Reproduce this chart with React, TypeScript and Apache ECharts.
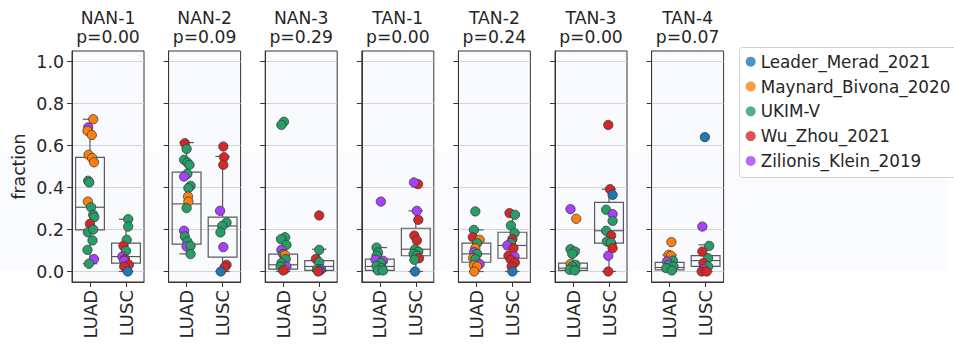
import React, { useEffect, useRef } from "react";
import * as echarts from "echarts";

const PANELS = ["NAN-1", "NAN-2", "NAN-3", "TAN-1", "TAN-2", "TAN-3", "TAN-4"];
const PVALUES = ["p=0.00", "p=0.09", "p=0.29", "p=0.00", "p=0.24", "p=0.00", "p=0.07"];
const GROUPS = ["LUAD", "LUSC"];
const DATASETS = ["Leader_Merad_2021", "Maynard_Bivona_2020", "UKIM-V", "Wu_Zhou_2021", "Zilionis_Klein_2019"];
const DATASET_COLORS = ["#1f77b4", "#ff7f0e", "#279e68", "#d62728", "#aa40fc"];
const Y_TICKS = [0, 0.2, 0.4, 0.6, 0.8, 1.0];

// box stats per group: [low whisker, q1, median, q3, high whisker]
const BOX_NAN1 = [[0.037, 0.198, 0.306, 0.543, 0.725], [0.0, 0.04, 0.071, 0.135, 0.249]];
const BOX_NAN2 = [[0.084, 0.13, 0.322, 0.473, 0.614], [0.0, 0.068, 0.217, 0.259, 0.548]];
const BOX_NAN3 = [[0.0, 0.011, 0.032, 0.083, 0.16], [0.0, 0.005, 0.024, 0.052, 0.106]];
const BOX_TAN1 = [[0.0, 0.005, 0.024, 0.059, 0.114], [0.0, 0.075, 0.106, 0.206, 0.289]];
const BOX_TAN2 = [[0.0, 0.044, 0.084, 0.135, 0.198], [0.0, 0.063, 0.124, 0.187, 0.278]];
const BOX_TAN3 = [[0.0, 0.005, 0.016, 0.04, 0.106], [0.0, 0.135, 0.194, 0.329, 0.392]];
const BOX_TAN4 = [[0.0, 0.008, 0.019, 0.043, 0.079], [0.0, 0.024, 0.052, 0.076, 0.127]];

// points: [fraction, dataset index, horizontal jitter (category units)]
const PTS_NAN1_LUAD = [[0.725, 1, 0.09], [0.686, 4, -0.05], [0.67, 1, -0.07], [0.65, 1, 0.05], [0.556, 1, -0.04], [0.54, 1, 0.06], [0.52, 1, 0.11], [0.432, 2, -0.05], [0.424, 2, -0.02], [0.333, 1, -0.06], [0.306, 2, 0.03], [0.27, 2, 0.09], [0.259, 2, 0.12], [0.227, 3, 0], [0.187, 2, -0.06], [0.2, 2, 0.09], [0.148, 2, 0.07], [0.103, 2, -0.07], [0.059, 4, 0.11], [0.037, 2, -0.03]];
const PTS_NAN1_LUSC = [[0.249, 2, 0.06], [0.214, 2, 0.06], [0.151, 2, 0.02], [0.122, 3, -0.07], [0.098, 2, 0], [0.071, 4, -0.1], [0.059, 3, -0.03], [0.051, 4, -0.05], [0.032, 3, 0.08], [0.024, 3, -0.05], [0, 0, 0.05]];
const PTS_NAN2_LUAD = [[0.611, 3, -0.05], [0.584, 2, 0], [0.532, 2, -0.07], [0.519, 2, 0.02], [0.508, 2, 0.08], [0.465, 2, 0.02], [0.452, 4, -0.07], [0.408, 2, 0.11], [0.397, 2, 0.05], [0.357, 1, 0.04], [0.333, 1, 0.05], [0.302, 2, 0], [0.194, 4, -0.07], [0.167, 2, -0.05], [0.143, 2, 0.02], [0.119, 4, 0], [0.122, 2, 0.11], [0.083, 2, 0.11]];
const PTS_NAN2_LUSC = [[0.595, 3, 0.02], [0.544, 3, 0.04], [0.508, 3, 0.02], [0.289, 4, -0.07], [0.233, 2, 0.11], [0.217, 2, -0.01], [0.186, 2, -0.06], [0.116, 4, 0.02], [0.032, 3, 0.11], [0.021, 3, 0.06], [0, 0, -0.05]];
const PTS_NAN3_LUAD = [[0.713, 2, 0.02], [0.698, 2, -0.05], [0.163, 2, 0.05], [0.154, 2, -0.06], [0.127, 2, 0.09], [0.103, 4, -0.05], [0.083, 2, 0], [0.079, 1, 0.05], [0.059, 2, 0.07], [0.04, 2, -0.05], [0.024, 4, 0.09], [0.024, 2, -0.07], [0.008, 1, 0.03], [0.005, 3, 0]];
const PTS_NAN3_LUSC = [[0.267, 3, 0], [0.103, 2, 0], [0.06, 3, -0.09], [0.044, 2, 0], [0.011, 2, -0.06], [0.011, 4, 0.05], [0.005, 0, 0.02], [0, 3, -0.03]];
const PTS_TAN1_LUAD = [[0.333, 4, 0.03], [0.114, 2, -0.09], [0.09, 2, -0.05], [0.075, 2, -0.09], [0.056, 4, -0.12], [0.051, 4, 0.09], [0.04, 2, 0.03], [0.027, 2, -0.09], [0.016, 2, 0.05], [0.005, 2, -0.05], [0.005, 2, 0.09]];
const PTS_TAN1_LUSC = [[0.416, 3, 0.06], [0.424, 4, -0.05], [0.289, 4, 0.03], [0.246, 3, 0.07], [0.171, 3, -0.04], [0.148, 3, 0.03], [0.106, 2, -0.02], [0.095, 2, 0.07], [0.084, 2, -0.06], [0.076, 2, 0.03], [0.063, 3, 0.09], [0.056, 2, -0.04], [0, 0, -0.02]];
const PTS_TAN2_LUAD = [[0.286, 2, -0.03], [0.198, 2, -0.07], [0.163, 3, -0.1], [0.151, 1, 0.09], [0.135, 2, 0.02], [0.111, 1, -0.03], [0.092, 4, -0.06], [0.084, 2, 0.02], [0.063, 1, -0.09], [0.059, 2, -0.03], [0.035, 4, 0.09], [0.029, 1, -0.07], [0.024, 1, 0.02], [0, 1, -0.06]];
const PTS_TAN2_LUSC = [[0.278, 3, -0.08], [0.27, 2, 0.07], [0.219, 2, -0.04], [0.183, 2, 0.06], [0.154, 3, 0], [0.135, 2, -0.04], [0.124, 4, -0.14], [0.111, 3, 0.03], [0.075, 3, -0.11], [0.071, 4, 0.06], [0.056, 3, -0.04], [0.043, 3, 0.07], [0.024, 3, -0.02], [0, 0, 0]];
const PTS_TAN3_LUAD = [[0.297, 4, -0.07], [0.251, 1, 0.09], [0.106, 2, -0.07], [0.095, 2, 0.05], [0.084, 2, -0.02], [0.035, 1, -0.07], [0.032, 2, 0.07], [0.024, 2, -0.02], [0.008, 2, -0.09], [0.005, 2, 0.05]];
const PTS_TAN3_LUSC = [[0.698, 3, -0.02], [0.392, 3, 0.03], [0.365, 0, 0.1], [0.294, 2, -0.08], [0.273, 4, 0.1], [0.241, 2, 0.1], [0.194, 2, -0.08], [0.171, 3, 0.06], [0.143, 2, -0.06], [0.132, 3, 0.07], [0.137, 2, 0.05], [0.111, 3, 0.1], [0.075, 4, -0.02], [0, 3, -0.02]];
const PTS_TAN4_LUAD = [[0.14, 1, 0.05], [0.079, 1, -0.03], [0.075, 1, 0.04], [0.052, 2, 0.09], [0.048, 4, -0.07], [0.032, 2, -0.03], [0.024, 2, 0.11], [0.016, 2, -0.09], [0.005, 2, 0.06]];
const PTS_TAN4_LUSC = [[0.64, 0, -0.02], [0.214, 4, -0.09], [0.122, 2, 0.1], [0.095, 3, -0.09], [0.063, 2, 0.07], [0.04, 3, -0.06], [0.024, 2, 0.07], [0.011, 4, -0.06], [0, 3, -0.11], [0, 3, 0.03]];

const BOXES = [BOX_NAN1, BOX_NAN2, BOX_NAN3, BOX_TAN1, BOX_TAN2, BOX_TAN3, BOX_TAN4];
const POINTS = [
  [PTS_NAN1_LUAD, PTS_NAN1_LUSC],
  [PTS_NAN2_LUAD, PTS_NAN2_LUSC],
  [PTS_NAN3_LUAD, PTS_NAN3_LUSC],
  [PTS_TAN1_LUAD, PTS_TAN1_LUSC],
  [PTS_TAN2_LUAD, PTS_TAN2_LUSC],
  [PTS_TAN3_LUAD, PTS_TAN3_LUSC],
  [PTS_TAN4_LUAD, PTS_TAN4_LUSC],
];

const FONT = "DejaVu Sans";
const TEXT = "#262626";
const SPINE = "#3a3533";
const GRIDLINE = "#d4d4d4";
const BOXLINE = "#5a5a5a";
const PLOT_BG = "#f8fafd";
const FS = 17.2;

const PANEL_LEFT0 = 72;
const PANEL_STEP = 96.6;
const PANEL_W = 72;
const PANEL_TOP = 51;
const PANEL_H = 231;

export default function App() {
  const ref = useRef<HTMLDivElement>(null);

  useEffect(() => {
    document.body.style.margin = "0";
    if (!ref.current) return;
    const chart = echarts.init(ref.current, null, { renderer: "svg" });

    const grids: any[] = [];
    const xAxes: any[] = [];
    const yAxes: any[] = [];
    const series: any[] = [];
    const titles: any[] = [];

    PANELS.forEach((name, i) => {
      const left = PANEL_LEFT0 + i * PANEL_STEP;
      grids.push({
        left, top: PANEL_TOP, width: PANEL_W, height: PANEL_H,
        show: true, backgroundColor: PLOT_BG, borderColor: SPINE, borderWidth: 1,
        outerBoundsMode: "none", containLabel: false,
      });
      titles.push({
        text: `${name}\n${PVALUES[i]}`,
        left: left + PANEL_W / 2,
        top: 8,
        padding: 0,
        textAlign: "center",
        textStyle: { fontFamily: FONT, fontSize: FS, fontWeight: "normal", color: TEXT, lineHeight: 19.5 },
      });
      xAxes.push({
        type: "category", gridIndex: i, data: GROUPS, position: "bottom",
        axisLine: { show: true, onZero: false, lineStyle: { color: SPINE, width: 1 } },
        axisTick: { show: true, alignWithLabel: true, length: 5, lineStyle: { color: SPINE, width: 1 } },
        axisLabel: { rotate: 90, margin: 8, fontFamily: FONT, fontSize: 18, color: TEXT },
        splitLine: { show: false },
      });
      xAxes.push({ type: "value", gridIndex: i, min: -0.5, max: 1.5, show: false, axisLine: { onZero: false } });
      yAxes.push({
        type: "value", gridIndex: i, min: -0.05, max: 1.05, position: "left",
        name: i === 0 ? "fraction" : "",
        nameLocation: "middle", nameGap: 45, nameMoveOverlap: false,
        nameTextStyle: { fontFamily: FONT, fontSize: FS, color: TEXT },
        axisLine: { show: true, onZero: false, lineStyle: { color: SPINE, width: 1 } },
        axisTick: { show: true, length: 5, customValues: Y_TICKS, lineStyle: { color: SPINE, width: 1 } },
        axisLabel: {
          show: i === 0, customValues: Y_TICKS, margin: 8,
          fontFamily: FONT, fontSize: 17.4, color: TEXT,
          formatter: (v: number) => v.toFixed(1),
        },
        splitLine: { show: true, lineStyle: { color: GRIDLINE, width: 1 } },
      });

      series.push({
        type: "custom",
        xAxisIndex: 2 * i, yAxisIndex: i,
        z: 2, silent: true,
        encode: { x: 0, y: [1, 2, 3, 4, 5] },
        data: BOXES[i].map((b, c) => [c, ...b]),
        renderItem: (params: any, api: any) => {
          const c = api.value(0);
          const low = api.coord([c, api.value(1)]);
          const q1 = api.coord([c, api.value(2)]);
          const med = api.coord([c, api.value(3)]);
          const q3 = api.coord([c, api.value(4)]);
          const high = api.coord([c, api.value(5)]);
          const bw = api.size([1, 0])[0] * 0.8;
          const cx = low[0];
          const capHalf = bw / 4;
          const st = { stroke: BOXLINE, lineWidth: 1.2, fill: "none" };
          return {
            type: "group",
            children: [
              { type: "line", shape: { x1: cx, y1: q3[1], x2: cx, y2: high[1] }, style: st },
              { type: "line", shape: { x1: cx, y1: q1[1], x2: cx, y2: low[1] }, style: st },
              { type: "line", shape: { x1: cx - capHalf, y1: high[1], x2: cx + capHalf, y2: high[1] }, style: st },
              { type: "line", shape: { x1: cx - capHalf, y1: low[1], x2: cx + capHalf, y2: low[1] }, style: st },
              { type: "rect", shape: { x: cx - bw / 2, y: q3[1], width: bw, height: q1[1] - q3[1] }, style: st },
              { type: "line", shape: { x1: cx - bw / 2, y1: med[1], x2: cx + bw / 2, y2: med[1] }, style: st },
            ],
          };
        },
      });

      POINTS[i].forEach((pts, c) => {
        series.push({
          type: "scatter",
          xAxisIndex: 2 * i + 1, yAxisIndex: i,
          z: 3, silent: true,
          symbol: "circle", symbolSize: 9.3,
          itemStyle: { borderColor: "#3a3a3a", borderWidth: 0.8, opacity: 1 },
          data: pts.map((p) => ({ value: [c + p[2], p[0]], itemStyle: { color: DATASET_COLORS[p[1]] } })),
        });
      });
    });

    DATASETS.forEach((d, k) => {
      series.push({
        type: "scatter", name: d, xAxisIndex: 1, yAxisIndex: 0, data: [],
        itemStyle: { color: DATASET_COLORS[k] },
      });
    });

    chart.setOption({
      animation: false,
      backgroundColor: "#ffffff",
      title: titles,
      grid: grids,
      xAxis: xAxes,
      yAxis: yAxes,
      series,
      legend: {
        orient: "vertical", left: 745.7, top: 51.7, padding: 0,
        itemGap: 4.8, itemWidth: 10, itemHeight: 10, icon: "circle",
        selectedMode: false, data: DATASETS,
        textStyle: { fontFamily: FONT, fontSize: 16.8, lineHeight: 20, color: TEXT },
        z: 5,
      },
      graphic: [
        { type: "rect", z: -10, silent: true, shape: { x: 0, y: 152, width: 948, height: 118 }, style: { fill: "#fafbfe" } },
        { type: "rect", z: 4, silent: true, shape: { x: 739.5, y: 47.5, width: 230, height: 130, r: 3 }, style: { fill: "rgba(255,255,255,0.85)", stroke: "#d2d2d2", lineWidth: 1 } },
      ],
    });

    return () => chart.dispose();
  }, []);

  return <div ref={ref} style={{ width: 954, height: 344 }} />;
}
